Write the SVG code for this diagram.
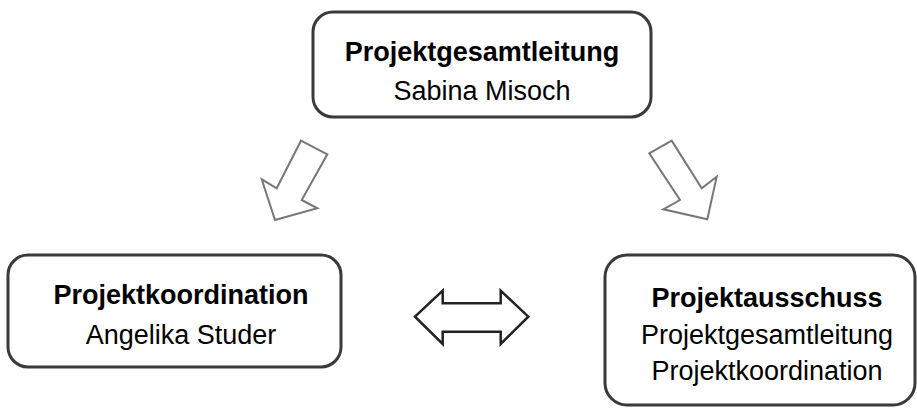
<svg xmlns="http://www.w3.org/2000/svg" width="917" height="409" viewBox="0 0 917 409">
<style>
.box{fill:#fff;stroke:#3a3a3a;stroke-width:3}
.b{font-family:"Liberation Sans",Arial,sans-serif;font-weight:bold;font-size:27px;fill:#000;text-anchor:middle}
.r{font-family:"Liberation Sans",Arial,sans-serif;font-size:27px;fill:#000;text-anchor:middle}
.arr{fill:#fff;stroke:#777;stroke-width:2;stroke-linejoin:miter}
.arr2{fill:#fff;stroke:#222;stroke-width:2.5;stroke-linejoin:miter}
</style>
<rect width="917" height="409" fill="#fff"/>
<g id="top">
<rect class="box" x="313" y="12" width="338" height="105" rx="20"/>
<text class="b" x="482" y="61">Projektgesamtleitung</text>
<text class="r" x="482" y="100">Sabina Misoch</text>
</g>
<g id="left">
<rect class="box" x="8" y="255" width="333" height="112" rx="20"/>
<text class="b" x="181" y="304">Projektkoordination</text>
<text class="r" x="181" y="344">Angelika Studer</text>
</g>
<g id="right">
<rect class="box" x="605" y="255" width="310" height="150" rx="22"/>
<text class="b" x="767" y="307">Projektausschuss</text>
<text class="r" x="767" y="344">Projektgesamtleitung</text>
<text class="r" x="767" y="380">Projektkoordination</text>
</g>
<g id="connectors">
<polygon class="arr" points="301,140.7 327.3,154.3 301.7,200 317.3,208.3 275,220 261.7,179.3 276.7,188.3"/>
<polygon class="arr" points="671.7,140.7 649.3,153.3 680,200 663.3,209.3 707.3,219.3 716.7,176.7 701.7,188.3"/>
<polygon class="arr2" points="415,316.7 442.7,290.7 442.7,303.3 500.7,303.3 500.7,290.7 528.3,316.7 500.7,344 500.7,331.7 442.7,331.7 442.7,344"/>
</g>
</svg>
